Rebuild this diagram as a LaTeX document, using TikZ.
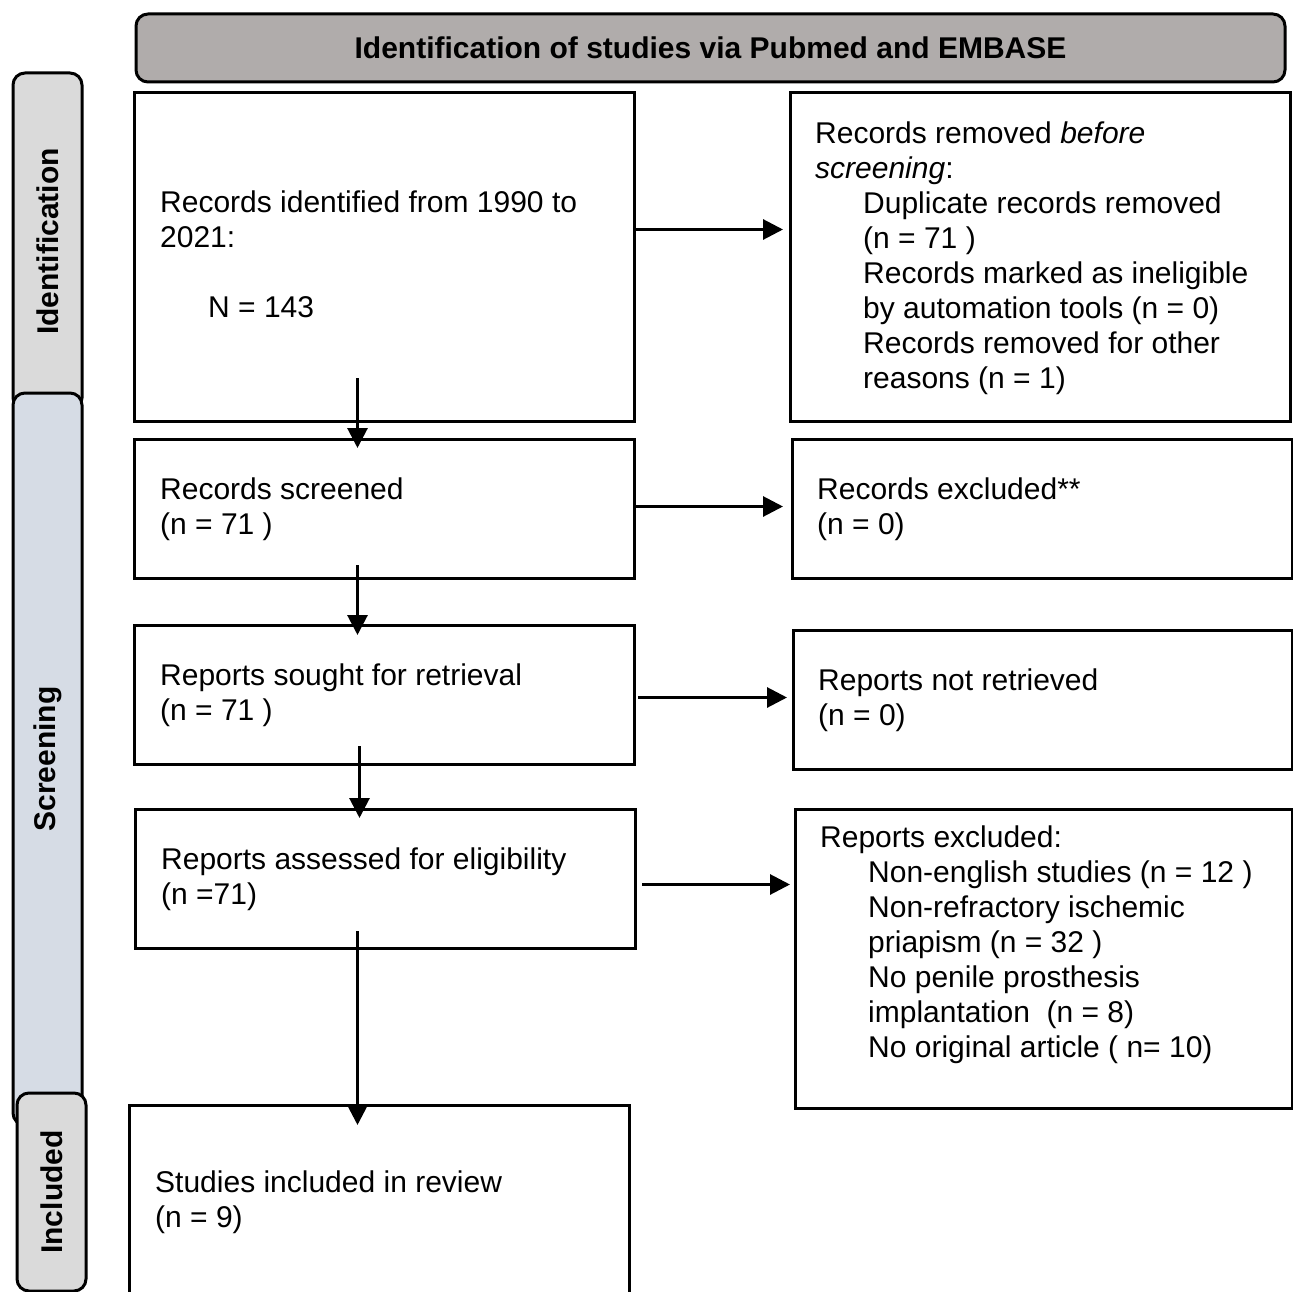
\documentclass[tikz,border=0pt]{standalone}
\usepackage{fontspec}
\setmainfont{Liberation Sans}
\usepackage{xcolor}
\usepackage{tikz}
\usetikzlibrary{positioning, calc, arrows.meta}

\definecolor{headgray}{RGB}{176,172,171}
\definecolor{phasegray}{RGB}{218,218,218}
\definecolor{phaseblue}{RGB}{214,220,229}

\tikzset{
  box/.style={draw=black, line width=3pt, anchor=north west, inner sep=0pt, minimum width=500pt},
  txt/.style={anchor=north west, inner sep=0pt, align=left, font=\fontsize{30}{34.9}\selectfont},
  head/.style={draw=black, line width=3pt, rounded corners=12pt, fill=headgray, font=\fontsize{30}{34.9}\selectfont\bfseries},
  phase/.style={draw=black, line width=3pt, rounded corners=12pt, rotate=90, minimum height=69pt, inner sep=0pt, font=\fontsize{30}{34.9}\selectfont\bfseries},
  flow/.style={line width=3pt, -{Triangle[length=20pt, width=20pt]}}
}

\begin{document}
\begin{tikzpicture}[x=1pt, y=-1pt]
  \useasboundingbox (0,0) rectangle (1293,1292);

  % phase bars on the left
  \node[phase, fill=phasegray, minimum width=337pt] (pid) at (47.5,241.5) {Identification};
  \node[phase, fill=phaseblue, minimum width=732pt] (psc) at (47.5,759) {Screening};
  \node[phase, fill=phasegray, minimum width=198pt] (pin) at (51.5,1192) {Included};

  % header
  \node[head, minimum width=1149pt, minimum height=68pt] (head) at (710.5,48) {Identification of studies via Pubmed and EMBASE};

  % left column
  \node[box, minimum height=329pt] (rid) at (133,91) {};
  \node[box, minimum height=139pt] (rsc) at (133,438) {};
  \node[box, minimum height=139pt] (rsr) at (133,624) {};
  \node[box, minimum height=139pt] (ras) at (134,808) {};
  \node[box, minimum height=220pt] (rin) at (128,1104) {};

  % right column
  \node[box, minimum height=329pt] (rrm) at (789,91) {};
  \node[box, minimum height=139pt] (rex) at (791,438) {};
  \node[box, minimum height=139pt, minimum width=498.5pt] (rnr) at (792,629) {};
  \node[box, minimum height=299pt, minimum width=496.5pt] (rre) at (794,808) {};

  % texts
  \node[txt] (t-rid) at ([shift={(27,100)}]rid.north west) {Records identified from 1990 to\\2021:\\[34.9pt]\hspace*{48pt}N = 143};
  \node[txt] (t-rsc) at ([shift={(27,40)}]rsc.north west) {Records screened\\(n = 71 )};
  \node[txt] (t-rsr) at ([shift={(27,40)}]rsr.north west) {Reports sought for retrieval\\(n = 71 )};
  \node[txt] (t-ras) at ([shift={(27,40)}]ras.north west) {Reports assessed for eligibility\\(n =71)};
  \node[txt] (t-rin) at ([shift={(27,67)}]rin.north west) {Studies included in review\\(n = 9)};
  \node[txt] (t-rrm) at ([shift={(26,31)}]rrm.north west) {Records removed \textit{before}\\\textit{screening}:\\
    \hspace*{48pt}Duplicate records removed\\\hspace*{48pt}(n = 71 )\\
    \hspace*{48pt}Records marked as ineligible\\\hspace*{48pt}by automation tools (n = 0)\\
    \hspace*{48pt}Records removed for other\\\hspace*{48pt}reasons (n = 1)};
  \node[txt] (t-rex) at ([shift={(26,40)}]rex.north west) {Records excluded**\\(n = 0)};
  \node[txt] (t-rnr) at ([shift={(26,40)}]rnr.north west) {Reports not retrieved\\(n = 0)};
  \node[txt] (t-rre) at ([shift={(26,18)}]rre.north west) {Reports excluded:\\
    \hspace*{48pt}Non-english studies (n = 12 )\\
    \hspace*{48pt}Non-refractory ischemic\\\hspace*{48pt}priapism (n = 32 )\\
    \hspace*{48pt}No penile prosthesis\\\hspace*{48pt}implantation~~(n = 8)\\
    \hspace*{48pt}No original article ( n= 10)};

  % arrows down
  \draw[flow, shorten <=-45pt, shorten >=-10pt] ([xshift=-27pt]rid.south) -- ([xshift=-27pt]rid.south |- rsc.north);
  \draw[flow, shorten <=-15pt, shorten >=-11pt] ([xshift=-27pt]rsc.south) -- ([xshift=-27pt]rsc.south |- rsr.north);
  \draw[flow, shorten <=-20pt, shorten >=-10pt] ([xshift=-25pt]rsr.south) -- ([xshift=-25pt]rsr.south |- ras.north);
  \draw[flow, shorten <=-19pt, shorten >=-21pt] ([xshift=-28pt]ras.south) -- ([xshift=-28pt]ras.south |- rin.north);

  % arrows right
  \draw[flow, shorten >=6pt] ([yshift=27.5pt]rid.east) -- ([yshift=27.5pt]rid.east -| rrm.west);
  \draw[flow, shorten >=8pt] ([yshift=2.5pt]rsc.east) -- ([yshift=2.5pt]rsc.east -| rex.west);
  \draw[flow, shorten <=2pt, shorten >=5pt] ([yshift=-2.5pt]rsr.east) -- ([yshift=-2.5pt]rsr.east -| rnr.west);
  \draw[flow, shorten <=5pt, shorten >=4pt] ([yshift=-5.5pt]ras.east) -- ([yshift=-5.5pt]ras.east -| rre.west);
\end{tikzpicture}
\end{document}
